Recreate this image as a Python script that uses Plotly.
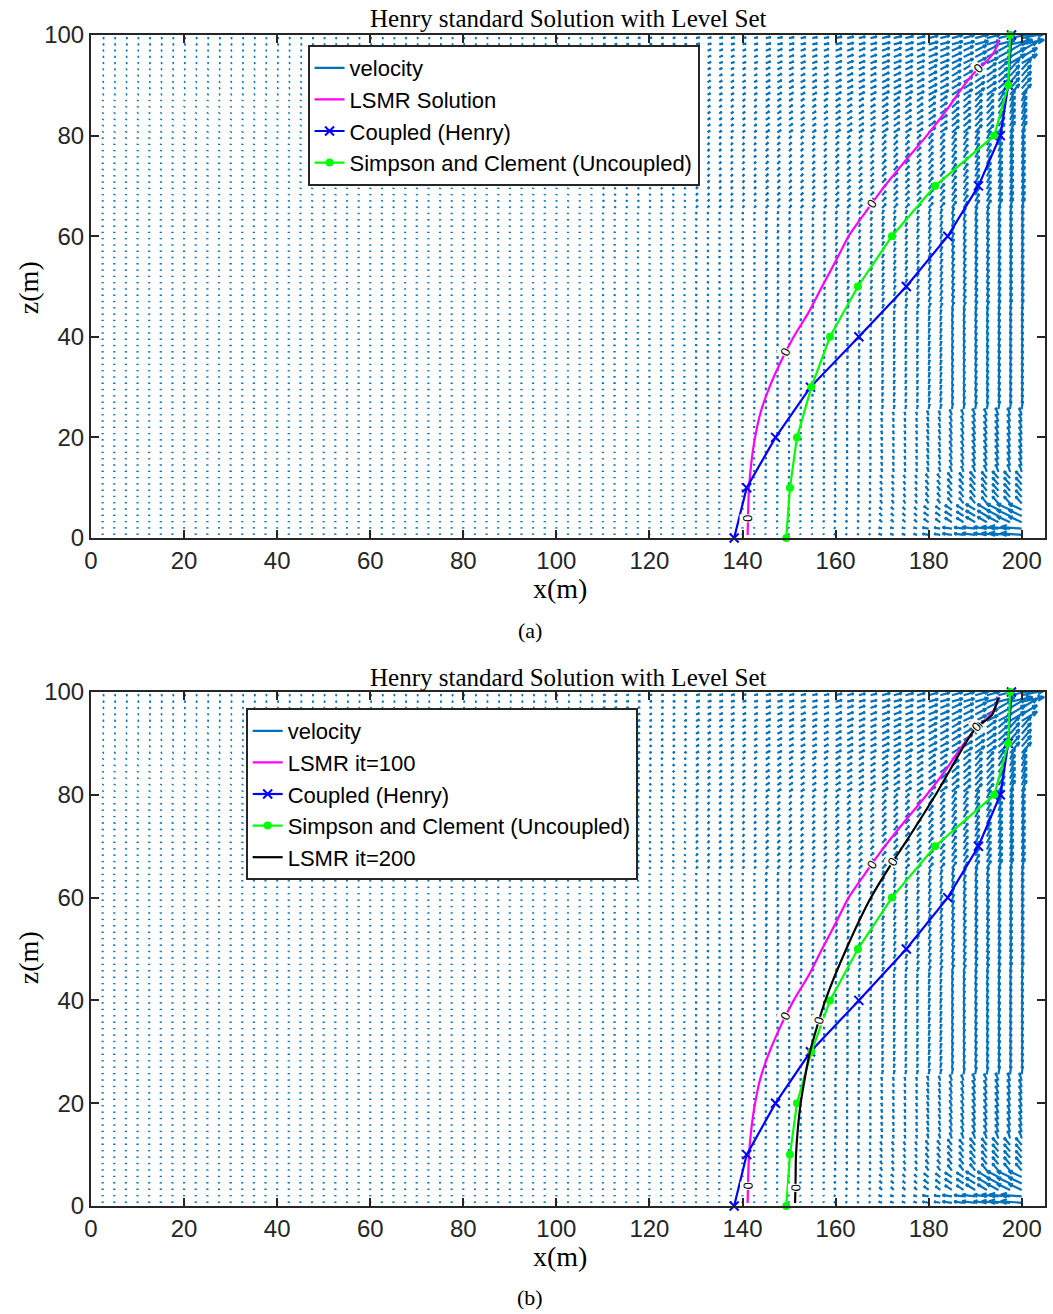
import math
import numpy as np
import plotly.graph_objects as go
import plotly.figure_factory as ff

# ---------------- data ----------------
TITLE = "Henry standard Solution with Level Set"
X_TICKS = [0, 20, 40, 60, 80, 100, 120, 140, 160, 180, 200]
Z_TICKS = [0, 20, 40, 60, 80, 100]

# velocity grid sample points (m)
VEL_GRID_X = [2.5 * k for k in range(1, 81)]
VEL_GRID_Z = [0.625 + 1.25 * k for k in range(80)]

# drawn velocity arrow components (m), estimated per zone of the picture
VEL_ZONE_X = [0, 110, 130, 145, 160, 170, 178, 185, 190, 194, 197.5, 201]
VEL_ZONE_Z = [0, 2, 6, 12, 25, 45, 65, 80, 88, 94, 97.5, 100]
VEL_U = [
    [0.00, 0.00, 0.00, -0.10, -0.30, -0.70, -1.30, -2.00, -2.80, -3.60, -4.50],
    [0.00, 0.00, 0.00, -0.10, -0.25, -0.55, -1.00, -1.50, -2.00, -2.50, -2.80],
    [0.00, 0.00, 0.00, -0.05, -0.15, -0.35, -0.60, -0.90, -1.10, -1.30, -1.30],
    [0.00, 0.00, 0.00, 0.00, -0.05, -0.15, -0.30, -0.45, -0.55, -0.60, -0.50],
    [0.00, 0.00, 0.05, 0.05, 0.10, 0.15, 0.20, 0.20, 0.25, 0.25, 0.20],
    [0.00, 0.05, 0.10, 0.20, 0.30, 0.35, 0.40, 0.40, 0.40, 0.35, 0.30],
    [0.05, 0.20, 0.35, 0.50, 0.65, 0.80, 0.90, 0.90, 0.85, 0.75, 0.60],
    [0.10, 0.30, 0.50, 0.75, 1.00, 1.25, 1.45, 1.50, 1.45, 1.30, 1.00],
    [0.20, 0.40, 0.60, 0.90, 1.20, 1.50, 1.75, 1.90, 2.00, 2.00, 2.00],
    [0.25, 0.45, 0.70, 1.00, 1.30, 1.60, 1.90, 2.10, 2.40, 2.80, 3.30],
    [0.30, 0.50, 0.75, 1.05, 1.35, 1.70, 2.00, 2.30, 2.80, 3.50, 4.80],
]
VEL_W = [
    [0.20, 0.20, 0.20, 0.20, 0.20, 0.20, 0.20, 0.25, 0.30, 0.30, 0.30],
    [0.20, 0.20, 0.25, 0.30, 0.35, 0.50, 0.70, 0.90, 1.10, 1.20, 1.20],
    [0.20, 0.20, 0.25, 0.35, 0.45, 0.60, 0.85, 1.10, 1.30, 1.40, 1.40],
    [0.20, 0.20, 0.30, 0.40, 0.50, 0.65, 0.90, 1.15, 1.35, 1.50, 1.50],
    [0.20, 0.25, 0.35, 0.45, 0.55, 0.75, 1.00, 1.25, 1.45, 1.60, 1.60],
    [0.20, 0.25, 0.35, 0.50, 0.60, 0.80, 1.05, 1.30, 1.50, 1.70, 1.80],
    [0.20, 0.25, 0.40, 0.50, 0.60, 0.80, 1.05, 1.30, 1.55, 1.80, 2.00],
    [0.15, 0.25, 0.35, 0.45, 0.55, 0.75, 0.95, 1.20, 1.50, 1.80, 2.20],
    [0.08, 0.20, 0.30, 0.40, 0.50, 0.65, 0.85, 1.05, 1.30, 1.60, 2.10],
    [0.05, 0.15, 0.25, 0.35, 0.45, 0.55, 0.70, 0.90, 1.10, 1.40, 1.80],
    [0.00, 0.10, 0.15, 0.20, 0.30, 0.40, 0.50, 0.60, 0.70, 0.80, 0.90],
]

# LSMR level-set zero contour (it=100 / "LSMR Solution")
LSMR_Z = [0.6, 5, 10, 15, 20, 25, 30, 35, 40, 45, 50, 55, 60, 65, 70, 75, 80, 85, 90, 93, 95, 97, 99]
LSMR_X = [141.1, 141.2, 141.4, 141.9, 142.7, 143.9, 145.8, 148.2, 151.0, 154.3, 157.1, 160.0,
          162.8, 166.6, 170.6, 175.0, 179.6, 183.8, 187.6, 190.3, 192.7, 194.3, 195.0]
# LSMR it=200 zero contour
LSMR200_Z = [0.6, 5, 10, 20, 30, 40, 50, 60, 67, 70, 80, 90, 93, 95.5, 97.5, 98.8]
LSMR200_X = [151.3, 151.4, 151.5, 152.5, 154.5, 157.8, 162.3, 167.6, 172.3, 174.5, 181.5,
             187.9, 190.1, 193.6, 194.5, 195.0]
# Coupled (Henry)
HENRY_Z = [0, 10, 20, 30, 40, 50, 60, 70, 80, 90, 100]
HENRY_X = [138.2, 140.9, 147.1, 154.6, 165.0, 175.2, 184.1, 190.7, 195.4, 197.1, 197.8]
# Simpson and Clement (Uncoupled)
SC_Z = [0, 10, 20, 30, 40, 50, 60, 70, 80, 90, 100]
SC_X = [149.4, 150.2, 151.7, 154.8, 158.8, 164.8, 172.1, 181.4, 194.1, 197.1, 197.5]

# contour label heights
LABEL_Z_LSMR = [4.0, 37.0, 66.5, 93.3]
LABEL_Z_LSMR200 = [3.5, 36.0, 67.0, 93.2]

# ---------------- layout constants ----------------
W, H = 1053, 1314
ML, MR, MT, MB = 91, 6, 35, 108
PW = W - ML - MR
PH = H - MT - MB
X_RANGE = [0, 205]


def py2paper(py):
    return (H - MB - py) / PH


def px2paper(px):
    return (px - ML) / PW


DOM_A = [py2paper(538), 1.0]
DOM_B = [0.0, py2paper(692)]

BLUE_Q = "#0072BD"
AX_COL = "#262626"
SANS = "Liberation Sans, Arial, Helvetica, sans-serif"
SERIF = "Liberation Serif, Times New Roman, serif"


def zone(v, edges):
    for i in range(len(edges) - 1):
        if v < edges[i + 1]:
            return i
    return len(edges) - 2


qx, qz, qu, qw = [], [], [], []
for z in VEL_GRID_Z:
    j = zone(z, VEL_ZONE_Z)
    for x in VEL_GRID_X:
        i = zone(x, VEL_ZONE_X)
        qx.append(x)
        qz.append(z)
        qu.append(VEL_U[j][i])
        qw.append(VEL_W[j][i])


def quiver_trace(xa, ya, leg):
    q = ff.create_quiver(qx, qz, qu, qw, scale=1, arrow_scale=0.3, angle=math.pi / 9,
                         line=dict(color=BLUE_Q, width=2.2), name="velocity",
                         hoverinfo="skip")
    t = q.data[0]
    t.update(xaxis=xa, yaxis=ya, legend=leg, showlegend=True)
    return t


fig = go.Figure()


def add_panel(xa, ya, leg, lsmr_name, with200):
    fig.add_trace(quiver_trace(xa, ya, leg))
    fig.add_trace(go.Scatter(x=LSMR_X, y=LSMR_Z, mode="lines", name=lsmr_name,
                             line=dict(color="#FF00FF", width=2.2, shape="spline", smoothing=0.6),
                             xaxis=xa, yaxis=ya, legend=leg, hoverinfo="skip"))
    fig.add_trace(go.Scatter(x=HENRY_X, y=HENRY_Z, mode="lines+markers", name="Coupled (Henry)",
                             line=dict(color="#0000FF", width=2.2),
                             marker=dict(symbol="x-thin", size=9, color="#0000FF",
                                         line=dict(color="#0000FF", width=2)),
                             cliponaxis=False,
                             xaxis=xa, yaxis=ya, legend=leg, hoverinfo="skip"))
    fig.add_trace(go.Scatter(x=SC_X, y=SC_Z, mode="lines+markers",
                             name="Simpson and Clement (Uncoupled)",
                             line=dict(color="#00FF00", width=2.2),
                             marker=dict(symbol="circle", size=8, color="#00FF00"),
                             cliponaxis=False,
                             xaxis=xa, yaxis=ya, legend=leg, hoverinfo="skip"))
    if with200:
        fig.add_trace(go.Scatter(x=LSMR200_X, y=LSMR200_Z, mode="lines", name="LSMR it=200",
                                 line=dict(color="black", width=2.2, shape="spline", smoothing=0.6),
                                 xaxis=xa, yaxis=ya, legend=leg, hoverinfo="skip"))


add_panel("x", "y", "legend", "LSMR Solution", False)
add_panel("x2", "y2", "legend2", "LSMR it=100", True)

annotations = []


def contour_labels(cx, cz, zs, xref, yref, pz):
    for z in zs:
        x = float(np.interp(z, cz, cx))
        x1 = float(np.interp(z - 1.5, cz, cx))
        x2 = float(np.interp(z + 1.5, cz, cx))
        ang = -math.degrees(math.atan2(3.0 * pz, (x2 - x1) * (PW / (X_RANGE[1] - X_RANGE[0]))))
        annotations.append(dict(x=x, y=z, xref=xref, yref=yref, text="0", showarrow=False,
                                textangle=ang, font=dict(family=SANS, size=13, color="black"),
                                bgcolor="white", borderpad=0))


contour_labels(LSMR_X, LSMR_Z, LABEL_Z_LSMR, "x", "y", 5.03)
contour_labels(LSMR_X, LSMR_Z, LABEL_Z_LSMR, "x2", "y2", 5.14)
contour_labels(LSMR200_X, LSMR200_Z, LABEL_Z_LSMR200, "x2", "y2", 5.14)


def paper_text(text, px, py, size, angle=0):
    annotations.append(dict(x=px2paper(px), y=py2paper(py), xref="paper", yref="paper",
                            text=text, showarrow=False, textangle=angle,
                            xanchor="center", yanchor="middle",
                            font=dict(family=SERIF, size=size, color="black")))


paper_text(TITLE, 569, 19, 25)
paper_text(TITLE, 569, 677, 25)
paper_text("x(m)", 561, 588, 28)
paper_text("x(m)", 561, 1256, 28)
paper_text("z(m)", 28, 288, 28, -90)
paper_text("z(m)", 28, 958, 28, -90)
paper_text("(a)", 531, 630, 22)
paper_text("(b)", 531, 1297, 22)

axis_common = dict(showline=True, linecolor=AX_COL, linewidth=2, mirror="ticks",
                   ticks="inside", ticklen=8, tickwidth=2, tickcolor=AX_COL,
                   showgrid=False, zeroline=False,
                   tickfont=dict(family=SANS, size=24, color=AX_COL))

legend_common = dict(xanchor="left", yanchor="top", bgcolor="white", bordercolor=AX_COL,
                     borderwidth=2, font=dict(family=SANS, size=22, color="black"),
                     tracegroupgap=0, itemwidth=30, traceorder="normal")

fig.update_layout(
    width=W, height=H,
    margin=dict(l=ML, r=MR, t=MT, b=MB),
    paper_bgcolor="white", plot_bgcolor="white",
    showlegend=True,
    xaxis=dict(range=X_RANGE, tickvals=X_TICKS, domain=[0, 1], anchor="y", **axis_common),
    yaxis=dict(range=[0, 100], tickvals=Z_TICKS, domain=DOM_A, anchor="x", **axis_common),
    xaxis2=dict(range=X_RANGE, tickvals=X_TICKS, domain=[0, 1], anchor="y2", **axis_common),
    yaxis2=dict(range=[0, 100], tickvals=Z_TICKS, domain=DOM_B, anchor="x2", **axis_common),
    legend=dict(x=px2paper(308), y=py2paper(45), **legend_common),
    legend2=dict(x=px2paper(246), y=py2paper(708), **legend_common),
    annotations=annotations,
    hovermode=False,
)

# remove the page's default body margin so the figure fills the window exactly
fig.write_html("out.html", config={"displayModeBar": False, "staticPlot": True},
               post_script="document.body.style.margin='0px';")
